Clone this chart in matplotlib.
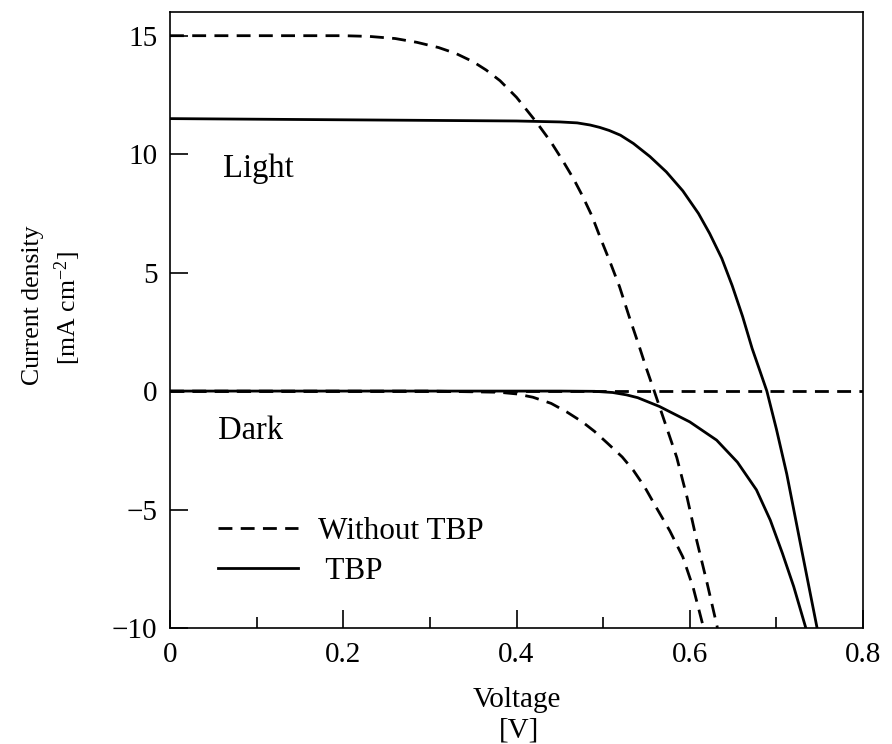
import matplotlib
matplotlib.use("Agg")
import matplotlib.pyplot as plt
from matplotlib.ticker import MultipleLocator

plt.rcParams['font.family'] = ['Liberation Serif', 'DejaVu Serif']
plt.rcParams['mathtext.fontset'] = 'custom'
plt.rcParams['mathtext.rm'] = 'Liberation Serif'
plt.rcParams['mathtext.it'] = 'Liberation Serif:italic'
plt.rcParams['axes.unicode_minus'] = True

# J-V curves of the dye cell, illuminated and in the dark
v_light_plain = [0.00, 0.10, 0.20, 0.23, 0.26, 0.285, 0.31, 0.33, 0.35, 0.365, 0.381, 0.40,
                 0.423, 0.44, 0.453, 0.466, 0.476, 0.487, 0.497, 0.508, 0.519, 0.53,
                 0.542, 0.55, 0.559, 0.572, 0.585, 0.597, 0.608, 0.62, 0.632]
j_light_plain = [15.0, 15.0, 15.0, 14.97, 14.88, 14.72, 14.5, 14.25, 13.9, 13.55, 13.1, 12.4,
                 11.35, 10.5, 9.75, 8.95, 8.25, 7.4, 6.45, 5.45, 4.4, 3.15,
                 1.85, 0.95, 0.0, -1.4, -2.8, -4.5, -6.3, -8.1, -10.0]

v_light_tbp = [0.00, 0.20, 0.40, 0.45, 0.47, 0.485, 0.496, 0.507, 0.52, 0.535, 0.554,
               0.573, 0.592, 0.61, 0.623, 0.637, 0.649, 0.661, 0.672, 0.681, 0.689,
               0.70, 0.712, 0.727, 0.747]
j_light_tbp = [11.5, 11.45, 11.4, 11.36, 11.32, 11.23, 11.13, 11.0, 10.8, 10.45, 9.9,
               9.25, 8.45, 7.5, 6.65, 5.6, 4.45, 3.15, 1.8, 0.85, 0.0,
               -1.6, -3.5, -6.3, -10.0]

v_dark_plain = [0.00, 0.30, 0.38, 0.40, 0.419, 0.44, 0.458, 0.476, 0.49, 0.505, 0.522,
                0.535, 0.548, 0.561, 0.577, 0.592, 0.604, 0.616]
j_dark_plain = [0.0, 0.0, -0.05, -0.12, -0.26, -0.52, -0.88, -1.3, -1.7, -2.2, -2.78,
                -3.35, -4.05, -4.89, -5.9, -7.0, -8.3, -10.0]

v_dark_tbp = [0.00, 0.45, 0.49, 0.511, 0.527, 0.54, 0.565, 0.60, 0.631, 0.655, 0.677,
              0.693, 0.707, 0.72, 0.734]
j_dark_tbp = [0.0, 0.0, -0.01, -0.06, -0.16, -0.28, -0.65, -1.3, -2.07, -3.0, -4.17,
              -5.45, -6.85, -8.25, -10.0]

x_ticks = [0, 0.2, 0.4, 0.6, 0.8]
x_tick_labels = ['0', '0.2', '0.4', '0.6', '0.8']
y_ticks = [-10, -5, 0, 5, 10, 15]
y_tick_labels = ['\u221210', '\u22125', '0', '5', '10', '15']

fig = plt.figure(figsize=(8.92, 7.44), dpi=100)
ax = fig.add_axes([170 / 892, 1 - 628 / 744, (863 - 170) / 892, (628 - 12) / 744])

lw = 2.0
dash = (5, 3)
line_kw = dict(color='black', lw=lw, solid_joinstyle='round', dash_joinstyle='round')
ax.axhline(0, dashes=dash, **line_kw)
h_plain, = ax.plot(v_light_plain, j_light_plain, dashes=dash, label='Without TBP', **line_kw)
h_tbp, = ax.plot(v_light_tbp, j_light_tbp, label=' TBP', **line_kw)
ax.plot(v_dark_plain, j_dark_plain, dashes=dash, **line_kw)
ax.plot(v_dark_tbp, j_dark_tbp, **line_kw)

ax.set_xlim(0, 0.8)
ax.set_ylim(-10, 16)
ax.set_xticks(x_ticks)
ax.set_xticklabels(x_tick_labels)
ax.xaxis.set_minor_locator(MultipleLocator(0.1))
ax.set_yticks(y_ticks)
ax.set_yticklabels(y_tick_labels)
ax.tick_params(axis='both', which='major', direction='in', length=13, width=1.2,
               labelsize=21, pad=10)
ax.tick_params(axis='y', which='major', pad=9)
ax.tick_params(axis='x', which='minor', direction='in', length=8, width=1.2)
for s in ax.spines.values():
    s.set_linewidth(1.2)

ax.text(0.061, 9.02, 'Light', fontsize=23.5, va='baseline', ha='left')
ax.text(0.055, -2.02, 'Dark', fontsize=23.5, va='baseline', ha='left')

ax.legend(handles=[h_plain, h_tbp], loc='upper left', bbox_to_anchor=(0.060, 0.19),
          frameon=False, fontsize=22.5, handlelength=2.56, handletextpad=0.64,
          labelspacing=0.33, borderaxespad=0, borderpad=0.2)

fig.text(33 / 892, 1 - 305 / 744, 'Current density', rotation=90, fontsize=18.5,
         ha='center', va='center')
fig.text(68 / 892, 1 - 308 / 744, '[mA cm$^{-2}$]', rotation=90, fontsize=18.5,
         ha='center', va='center')
fig.text(517 / 892, 1 - 700 / 744, 'Voltage', fontsize=21, ha='center', va='center')
fig.text(519 / 892, 1 - 731 / 744, '[V]', fontsize=21, ha='center', va='center')

fig.savefig('out.png', dpi=100)
